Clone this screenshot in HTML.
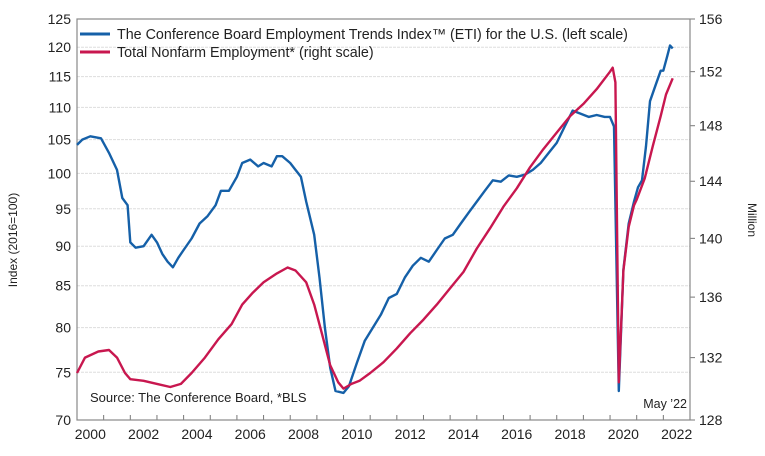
<!DOCTYPE html>
<html><head><meta charset="utf-8"><style>
body{margin:0;background:#fff;font-family:"Liberation Sans",sans-serif}
svg text{font-family:"Liberation Sans",sans-serif;fill:#222}
</style></head><body>
<svg id="c" width="765" height="451"></svg>
<script>
const etiYears=[2000.0,2000.2,2000.5,2000.9,2001.2,2001.5,2001.7,2001.9,2002.0,2002.2,2002.5,2002.8,2003.0,2003.2,2003.4,2003.6,2003.8,2004.0,2004.3,2004.6,2004.9,2005.2,2005.4,2005.7,2006.0,2006.2,2006.5,2006.8,2007.0,2007.3,2007.5,2007.7,2008.0,2008.2,2008.4,2008.6,2008.9,2009.1,2009.3,2009.5,2009.7,2010.0,2010.2,2010.5,2010.8,2011.1,2011.4,2011.7,2012.0,2012.3,2012.6,2012.9,2013.2,2013.5,2013.8,2014.1,2014.4,2014.7,2015.0,2015.3,2015.6,2015.9,2016.2,2016.5,2016.8,2017.1,2017.4,2017.7,2018.0,2018.3,2018.6,2018.9,2019.2,2019.5,2019.8,2020.0,2020.15,2020.33,2020.5,2020.7,2020.9,2021.05,2021.2,2021.35,2021.5,2021.7,2021.9,2022.0,2022.15,2022.25,2022.35];
const etiValues=[104.2,105,105.5,105.2,103,100.5,96.5,95.5,90.5,89.8,90,91.5,90.5,89,88,87.3,88.5,89.5,91,93,94,95.5,97.5,97.5,99.5,101.5,102,101,101.5,101,102.5,102.5,101.5,100.5,99.5,96,91.5,86,80,75.5,73,72.8,73.5,76,78.5,80,81.5,83.5,84,86,87.5,88.5,88,89.5,91,91.5,93,94.5,96,97.5,99,98.8,99.7,99.5,99.8,100.5,101.5,103,104.5,107,109.5,109,108.5,108.8,108.5,108.5,107,73,87,93,96,98,99,104,111,113.5,116,116,118.5,120.3,119.8];
const empYears=[2000.0,2000.3,2000.8,2001.2,2001.5,2001.8,2002.0,2002.5,2003.0,2003.5,2003.9,2004.3,2004.8,2005.3,2005.8,2006.2,2006.6,2007.0,2007.5,2007.9,2008.2,2008.6,2008.9,2009.2,2009.5,2009.8,2010.0,2010.3,2010.6,2011.0,2011.5,2012.0,2012.5,2013.0,2013.5,2014.0,2014.5,2015.0,2015.5,2016.0,2016.5,2017.0,2017.5,2018.0,2018.5,2019.0,2019.5,2020.0,2020.1,2020.2,2020.33,2020.5,2020.7,2020.9,2021.0,2021.3,2021.6,2021.9,2022.1,2022.35];
const empValues=[131,132,132.4,132.5,132,131,130.6,130.5,130.3,130.1,130.3,131,132,133.2,134.2,135.5,136.3,137,137.6,138,137.8,137,135.5,133.5,131.5,130.4,130,130.3,130.5,131,131.7,132.6,133.6,134.5,135.5,136.6,137.7,139.3,140.7,142.2,143.5,145,146.3,147.5,148.7,149.6,150.7,152,152.3,151.2,130.4,137.8,140.8,142.3,142.7,144.2,146.5,148.7,150.3,151.5];
const leftTicks=[70,75,80,85,90,95,100,105,110,115,120,125];
const rightTicks=[128,132,136,140,144,148,152,156];
const xLabels=[2000,2002,2004,2006,2008,2010,2012,2014,2016,2018,2020,2022];

const L=77,R=690,T=19,B=420;
const X=y=>L+(y-2000)/23*(R-L);
const YL=v=>T+Math.log(125/v)/Math.log(125/70)*(B-T);
const YR=v=>T+Math.log(156/v)/Math.log(156/128)*(B-T);
const svg=document.getElementById('c');const NS='http://www.w3.org/2000/svg';
function mk(tag,attrs,txt){const e=document.createElementNS(NS,tag);for(const k in attrs)e.setAttribute(k,attrs[k]);if(txt!=null)e.textContent=txt;svg.appendChild(e);return e;}

leftTicks.forEach(v=>{const y=YL(v);
 if(v>70&&v<125){const g=mk('line',{x1:L,x2:R,y1:y,y2:y,stroke:'#ddd','stroke-width':1,'stroke-dasharray':'3,1'});
 
 }
 const t=mk('text',{x:L-6,y:y+5,'text-anchor':'end','font-size':14},v);
 
 
});
rightTicks.forEach(v=>{const y=YR(v);
 const tk=mk('line',{x1:R,x2:R+5,y1:y,y2:y,stroke:'#777'});
 
 
 const t=mk('text',{x:R+9,y:y+5,'font-size':14},v);
 
 
});
for(let yr=2000;yr<=2023;yr++){const x=X(yr);
 const tk=mk('line',{x1:x,x2:x,y1:B,y2:B-5,stroke:'#777'});
 
 }
xLabels.forEach(yr=>{const t=mk('text',{x:X(yr+0.5),y:B+19,'text-anchor':'middle','font-size':14},yr);
 
 });
const frame=mk('rect',{x:L,y:T,width:R-L,height:B-T,fill:'none',stroke:'#888','stroke-width':1.2});



const empPath=mk('path',{d:empYears.map((y,i)=>(i?'L':'M')+X(y).toFixed(1)+','+YR(empValues[i]).toFixed(1)).join(''),fill:'none',stroke:'#c8174f','stroke-width':2.4,'stroke-linejoin':'round'});


const etiPath=mk('path',{d:etiYears.map((y,i)=>(i?'L':'M')+X(y).toFixed(1)+','+YL(etiValues[i]).toFixed(1)).join(''),fill:'none',stroke:'#1560a8','stroke-width':2.4,'stroke-linejoin':'round'});


svg.insertBefore(etiPath,empPath);

const l1=mk('line',{x1:80,x2:110,y1:34,y2:34,stroke:'#1560a8','stroke-width':3});

const t1=mk('text',{x:117,y:39,'font-size':14.3},'The Conference Board Employment Trends Index™ (ETI) for the U.S. (left scale)');

const l2=mk('line',{x1:80,x2:110,y1:52,y2:52,stroke:'#c8174f','stroke-width':3});

const t2=mk('text',{x:117,y:57,'font-size':14.3},'Total Nonfarm Employment* (right scale)');


const s=mk('text',{x:90,y:402,'font-size':13},'Source: The Conference Board, *BLS');

const m=mk('text',{x:687,y:408,'font-size':12.5,'text-anchor':'end'},'May \u201922');

const yl=mk('text',{x:0,y:0,'font-size':12,'text-anchor':'middle',transform:'translate(17,240) rotate(-90)'},'Index (2016=100)');

const yr2=mk('text',{x:0,y:0,'font-size':12,'text-anchor':'middle',transform:'translate(748,220) rotate(90)'},'Million');

</script>
</body></html>
